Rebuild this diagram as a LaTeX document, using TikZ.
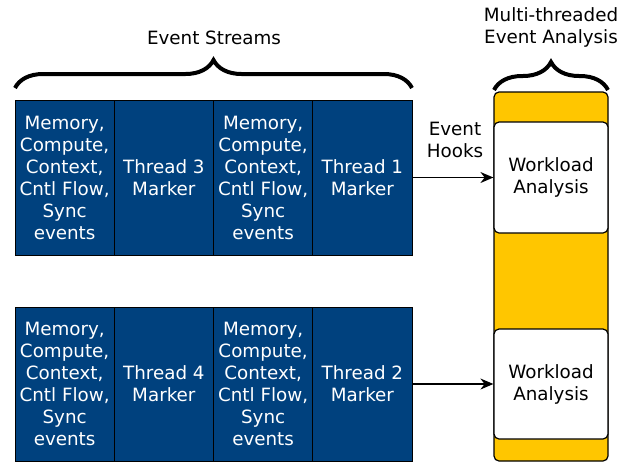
\documentclass[tikz,border=0pt]{standalone}
\usepackage{fontspec}
\setmainfont{DejaVu Sans}
\usepackage{xcolor}
\usetikzlibrary{arrows.meta, positioning, decorations.pathreplacing}
\definecolor{streamblue}{RGB}{0, 65, 126}
\definecolor{threadyellow}{RGB}{255, 198, 0}

\begin{document}
\begin{tikzpicture}[
    x=1pt, y=-1pt,
    txt/.style={font=\fontsize{18.3}{22}\selectfont, align=center},
    cell/.style={rectangle, draw=black, line width=1pt, fill=streamblue,
                 text=white, minimum width=99.25pt, minimum height=155pt,
                 inner sep=0pt, outer sep=0pt, txt},
    wl/.style={rectangle, draw=black, line width=1.2pt, fill=white,
               rounded corners=5pt, minimum width=114pt, minimum height=111pt, txt},
    bar/.style={rectangle, draw=black, line width=1.2pt, fill=threadyellow,
                rounded corners=5pt, minimum width=114pt, minimum height=369pt},
    brc/.style={decorate, decoration={brace, amplitude=28pt}, line width=4pt},
    hook/.style={-{Stealth[length=13pt, width=11pt]}, line width=1.3pt}
]
\useasboundingbox (0,0) rectangle (639,464);

%% Event stream rows
\node[cell, anchor=north west] (a1) at (15,100)
    {Memory,\\Compute,\\Context,\\Cntl Flow,\\Sync\\events};
\node[cell, right=0pt of a1] (a2) {Thread 3\\Marker};
\node[cell, right=0pt of a2] (a3)
    {Memory,\\Compute,\\Context,\\Cntl Flow,\\Sync\\events};
\node[cell, right=0pt of a3] (a4) {Thread 1\\Marker};

\node[cell, anchor=north west, minimum height=154pt] (b1) at (15,307)
    {Memory,\\Compute,\\Context,\\Cntl Flow,\\Sync\\events};
\node[cell, minimum height=154pt, right=0pt of b1] (b2) {Thread 4\\Marker};
\node[cell, minimum height=154pt, right=0pt of b2] (b3)
    {Memory,\\Compute,\\Context,\\Cntl Flow,\\Sync\\events};
\node[cell, minimum height=154pt, right=0pt of b3] (b4) {Thread 2\\Marker};

%% Analysis column
\node[bar] (bar) at (551,276.5) {};
\node[wl] (wa1) at (551,177.5) {Workload\\Analysis};
\node[wl, minimum height=110pt] (wa2) at (551,384) {Workload\\Analysis};

%% Braces and titles
\coordinate (s0) at (15,88);
\coordinate (s1) at (412,88);
\coordinate (m0) at (494,90);
\coordinate (m1) at (608,90);
\draw[brc] (s0) -- (s1);
\draw[brc] (m0) -- (m1);
\node[txt] (streams) at (214,38) {Event Streams};
\node[txt] (multi) at (551,27) {Multi-threaded\\Event Analysis};

%% Hooks
\draw[hook] (a4) -- (wa1);
\draw[hook] (b4) -- (wa2);
\node[txt] (hooks) at (455,140) {Event\\Hooks};

\end{tikzpicture}
\end{document}
